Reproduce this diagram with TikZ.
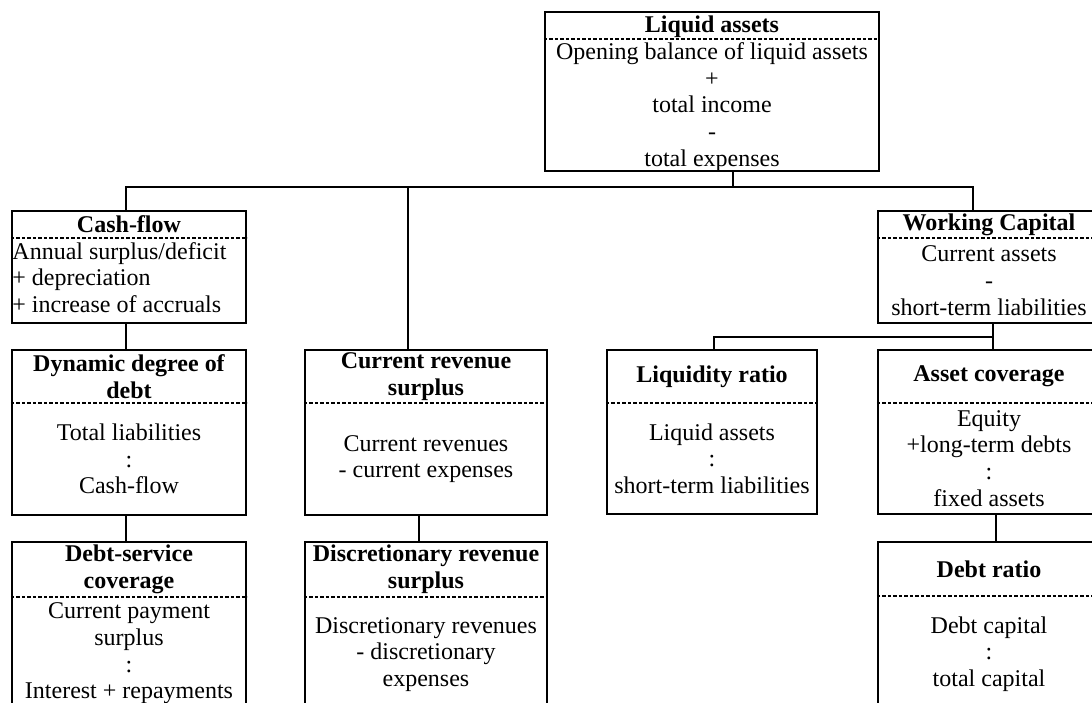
\documentclass[tikz,border=0pt]{standalone}
\usepackage{fontspec}
\setmainfont{Liberation Serif}
\usetikzlibrary{fit}

\tikzset{
  panelbox/.style={draw, line width=2.5pt, inner sep=0pt},
  divider/.style={line width=1.8pt, dash pattern=on 3.5pt off 2pt},
  wire/.style={line width=1.3pt},
  txt/.style={inner sep=0pt, align=center, font=\fontsize{24}{26.7}\selectfont},
  ttl/.style={txt, font=\fontsize{24}{26.7}\selectfont\bfseries},
}

% #1 name, (#2,#3) top-left, (#4,#5) bottom-right, #6 height of the dashed divider
\newcommand\panel[6]{%
  \node[panelbox, fit={(#2,#3) (#4,#5)}] (#1) {};
  \draw[divider] (#1.west |- 0,#6) -- (#1.east |- 0,#6);
  \coordinate (#1-title) at ({(#2+#4)/2},{(#3+#6)/2});
  \coordinate (#1-body) at ({(#2+#4)/2},{(#6+#5)/2});
}

\begin{document}
\begin{tikzpicture}[x=1pt, y=-1pt]
\useasboundingbox (0,0) rectangle (1092,702);
\clip (0,0) rectangle (1092,702);
\fill[white] (0,0) rectangle (1092,702);

% top level
\panel{liq}{545}{12}{879}{171}{39}
\node[ttl, yshift=-1.5pt] at (liq-title) {Liquid assets};
\node[txt, yshift=-2pt] at (liq-body) {Opening balance of liquid assets\\+\\total income\\-\\total expenses};

% second level
\panel{cash}{12}{211}{246}{323}{238}
\node[ttl] at (cash-title) {Cash-flow};
\node[txt, align=left, anchor=west, xshift=1.5pt, yshift=3pt] at (cash.west |- cash-body)
  {Annual surplus/deficit\\+ depreciation\\+ increase of accruals};

\panel{wc}{878}{211}{1100}{323}{238}
\node[ttl] at (wc-title) {Working Capital};
\node[txt] at (wc-body) {Current assets\\-\\short-term liabilities};

% third level
\panel{dyn}{12}{350}{246}{515}{403}
\node[ttl] at (dyn-title) {Dynamic degree of\\debt};
\node[txt] at (dyn-body) {Total liabilities\\:\\Cash-flow};

\panel{crs}{305}{350}{547}{515}{403}
\node[ttl] at (crs-title) {Current revenue\\surplus};
\node[txt] at (crs-body) {Current revenues\\- current expenses};

\panel{liqr}{607}{350}{817}{514}{403}
\node[ttl] at (liqr-title) {Liquidity ratio};
\node[txt] at (liqr-body) {Liquid assets\\:\\short-term liabilities};

\panel{asc}{878}{350}{1100}{514}{403}
\node[ttl] at (asc-title) {Asset coverage};
\node[txt] at (asc-body) {Equity\\+long-term debts\\:\\fixed assets};

% fourth level
\panel{dsc}{12}{542}{246}{712}{597}
\node[ttl] at (dsc-title) {Debt-service\\coverage};
\node[txt, yshift=1pt] at (dsc-body) {Current payment\\surplus\\:\\Interest + repayments};

\panel{drs}{305}{542}{547}{712}{597}
\node[ttl] at (drs-title) {Discretionary revenue\\surplus};
\node[txt] at (drs-body) {Discretionary revenues\\- discretionary\\expenses};

\panel{dr}{878}{542}{1100}{712}{596}
\node[ttl] at (dr-title) {Debt ratio};
\node[txt] at (dr-body) {Debt capital\\:\\total capital};

% connectors
\coordinate (busL) at (126,187);
\coordinate (busM) at (408,187);
\coordinate (busR) at (973,187);
\coordinate (busJ) at (733,187);
\draw[wire] (liq.south -| busJ) -- (busJ);
\draw[wire] (cash.north -| busL) |- (busR) -- (wc.north -| busR);
\draw[wire] (busM) -- (crs.north -| busM);

\draw[wire] (cash.south -| busL) -- (dyn.north -| busL);
\draw[wire] (dyn.south -| busL) -- (dsc.north -| busL);

\coordinate (crsdrop) at (419,0);
\draw[wire] (crs.south -| crsdrop) -- (drs.north -| crsdrop);

\coordinate (wcJ) at (993,337);
\coordinate (liqrJ) at (714,337);
\draw[wire] (wc.south -| wcJ) -- (wcJ) -- (asc.north -| wcJ);
\draw[wire] (wcJ) -- (liqrJ) -- (liqr.north -| liqrJ);

\coordinate (ascdrop) at (996,0);
\draw[wire] (asc.south -| ascdrop) -- (dr.north -| ascdrop);
\end{tikzpicture}
\end{document}
